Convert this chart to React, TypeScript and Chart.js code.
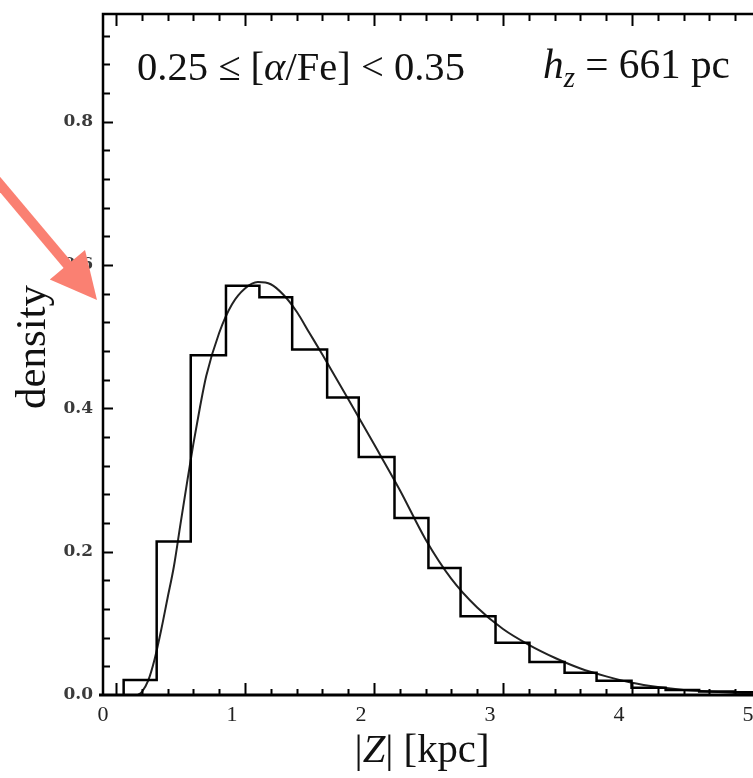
import React, { useEffect, useRef } from "react";
import { Chart, registerables } from "chart.js";

Chart.register(...registerables);

// ---------- data ----------
const HIST_EDGES = [0.06, 0.316, 0.58, 0.853, 1.112, 1.366, 1.637, 1.882, 2.159, 2.422, 2.671, 2.942, 3.205, 3.477, 3.725, 3.996, 4.26, 4.52, 4.79, 5.05];
const HIST_DENSITY = [0.021, 0.214, 0.474, 0.571, 0.555, 0.482, 0.415, 0.332, 0.247, 0.177, 0.11, 0.073, 0.046, 0.031, 0.02, 0.01, 0.007, 0.005, 0.004];

const CURVE_Z = [0.17, 0.2, 0.25, 0.3, 0.35, 0.4, 0.45, 0.5, 0.55, 0.6, 0.65, 0.7, 0.8, 0.9, 1.0, 1.1, 1.2, 1.3, 1.4, 1.5, 1.6, 1.8, 2.0, 2.2, 2.4, 2.6, 2.8, 3.0, 3.2, 3.4, 3.6, 3.8, 4.0, 4.2, 4.4, 4.6, 4.8, 5.0, 5.1];
const CURVE_DENSITY = [0.0, 0.004, 0.02, 0.05, 0.09, 0.135, 0.18, 0.238, 0.295, 0.35, 0.4, 0.445, 0.505, 0.545, 0.567, 0.576, 0.573, 0.558, 0.535, 0.505, 0.475, 0.413, 0.35, 0.286, 0.217, 0.162, 0.122, 0.092, 0.07, 0.052, 0.037, 0.026, 0.017, 0.011, 0.007, 0.005, 0.003, 0.002, 0.002];

const X_TICKS = [0, 1, 2, 3, 4, 5];
const Y_TICKS = [0, 0.2, 0.4, 0.6, 0.8];
const X_MINOR_STEP = 0.2;
const Y_MINOR_STEP = 0.04;
const X_MIN = -0.1;
const X_MAX = 5.1;
const Y_MIN = 0;
const Y_MAX = 0.95;

const Y_TITLE = "density";
const X_TITLE_RUNS = [
  { t: "|" },
  { t: "Z", italic: true },
  { t: "|" },
  { t: " [kpc]" },
];
const BIN_LABEL_RUNS = [
  { t: "0.25 ≤ [" },
  { t: "α", italic: true },
  { t: "/Fe] < 0.35" },
];
const HZ_LABEL_RUNS = [
  { t: "h", italic: true },
  { t: "z", italic: true, sub: true },
  { t: " = 661 pc" },
];

// ---------- layout constants ----------
const CANVAS_W = 800;
const CANVAS_H = 778;
const SERIF = '"Liberation Serif", serif';

type Run = { t: string; italic?: boolean; sub?: boolean };

function fontFor(r: Run, size: number) {
  const s = r.sub ? size * 0.7 : size;
  return `${r.italic ? "italic " : ""}${s}px ${SERIF}`;
}
function runsWidth(ctx: CanvasRenderingContext2D, runs: Run[], size: number) {
  let w = 0;
  for (const r of runs) {
    ctx.font = fontFor(r, size);
    w += ctx.measureText(r.t).width;
  }
  return w;
}
function drawRuns(ctx: CanvasRenderingContext2D, runs: Run[], x: number, y: number, size: number) {
  let cx = x;
  for (const r of runs) {
    ctx.font = fontFor(r, size);
    ctx.fillText(r.t, cx, r.sub ? y + size * 0.22 : y);
    cx += ctx.measureText(r.t).width;
  }
}
function fitSize(ctx: CanvasRenderingContext2D, runs: Run[], target: number) {
  const w = runsWidth(ctx, runs, 40);
  return (40 * target) / w;
}

const framePlugin = {
  id: "frame",
  afterDraw(chart: any) {
    const { ctx, chartArea: a } = chart;
    const x = chart.scales.x;
    const y = chart.scales.y;
    ctx.save();
    ctx.strokeStyle = "#000";
    ctx.lineCap = "butt";

    // inward ticks
    ctx.lineWidth = 2;
    ctx.beginPath();
    for (let k = Math.ceil(X_MIN / X_MINOR_STEP); k * X_MINOR_STEP <= X_MAX + 1e-9; k++) {
      const v = k * X_MINOR_STEP;
      const major = k % 5 === 0;
      const px = Math.round(x.getPixelForValue(v)) + 0.5;
      const len = major ? 12 : 6;
      ctx.moveTo(px, a.bottom);
      ctx.lineTo(px, a.bottom - len);
      const lenTop = major ? 12 : 7;
      ctx.moveTo(px, a.top);
      ctx.lineTo(px, a.top + lenTop);
    }
    for (let k = 1; k * Y_MINOR_STEP <= Y_MAX + 1e-9; k++) {
      const v = k * Y_MINOR_STEP;
      const major = k % 5 === 0;
      const py = Math.round(y.getPixelForValue(v)) + 0.5;
      const len = major ? 10 : 7;
      ctx.moveTo(a.left, py);
      ctx.lineTo(a.left + len, py);
    }
    ctx.stroke();

    // axes frame
    ctx.lineWidth = 2.5;
    ctx.beginPath();
    ctx.moveTo(a.left, a.bottom);
    ctx.lineTo(a.left, a.top);
    ctx.lineTo(a.right, a.top);
    ctx.stroke();
    ctx.lineWidth = 3;
    ctx.beginPath();
    ctx.moveTo(a.left - 4, a.bottom);
    ctx.lineTo(a.right, a.bottom);
    ctx.stroke();

    // texts
    ctx.fillStyle = "#111";
    ctx.textBaseline = "alphabetic";
    ctx.textAlign = "left";
    const s1 = fitSize(ctx, BIN_LABEL_RUNS, 328);
    drawRuns(ctx, BIN_LABEL_RUNS, 137, 80, s1);
    const s2 = fitSize(ctx, HZ_LABEL_RUNS, 187);
    drawRuns(ctx, HZ_LABEL_RUNS, 543, 78, s2);

    const s3 = fitSize(ctx, X_TITLE_RUNS, 135);
    const wx = runsWidth(ctx, X_TITLE_RUNS, s3);
    drawRuns(ctx, X_TITLE_RUNS, 422 - wx / 2, 762, s3);

    ctx.save();
    const yRuns = [{ t: Y_TITLE }];
    const s4 = fitSize(ctx, yRuns, 124);
    ctx.translate(45, 347);
    ctx.rotate(-Math.PI / 2);
    ctx.textAlign = "center";
    ctx.font = `${s4}px ${SERIF}`;
    ctx.fillText(Y_TITLE, 0, 0);
    ctx.restore();

    // salmon arrow annotation
    const sx = -8, sy = 175, tx = 97, ty = 300;
    const dx = tx - sx, dy = ty - sy;
    const L = Math.hypot(dx, dy);
    const ux = dx / L, uy = dy / L;
    const nx = -uy, ny = ux;
    const headLen = 46, headHalf = 23;
    const bx = tx - headLen * ux, by = ty - headLen * uy;
    ctx.strokeStyle = "#fa8072";
    ctx.fillStyle = "#fa8072";
    ctx.lineWidth = 10;
    ctx.beginPath();
    ctx.moveTo(sx, sy);
    ctx.lineTo(bx + 4 * ux, by + 4 * uy);
    ctx.stroke();
    ctx.beginPath();
    ctx.moveTo(tx, ty);
    ctx.lineTo(bx + headHalf * nx, by + headHalf * ny);
    ctx.lineTo(bx - headHalf * nx, by - headHalf * ny);
    ctx.closePath();
    ctx.fill();

    ctx.restore();
  },
};

export default function App() {
  const ref = useRef<HTMLCanvasElement | null>(null);

  useEffect(() => {
    document.body.style.margin = "0";
    const canvas = ref.current;
    if (!canvas) return;

    const histPoints = [{ x: HIST_EDGES[0], y: 0 }];
    HIST_DENSITY.forEach((h, i) => histPoints.push({ x: HIST_EDGES[i], y: h }));
    histPoints.push({ x: HIST_EDGES[HIST_EDGES.length - 1], y: HIST_DENSITY[HIST_DENSITY.length - 1] });

    const curvePoints = CURVE_Z.map((z, i) => ({ x: z, y: CURVE_DENSITY[i] }));

    const chart = new Chart(canvas, {
      type: "line",
      data: {
        datasets: [
          {
            label: "histogram",
            data: histPoints,
            stepped: "before",
            borderColor: "#000",
            borderWidth: 2.5,
            pointRadius: 0,
            fill: false,
          },
          {
            label: "model",
            data: curvePoints,
            borderColor: "#222",
            borderWidth: 2,
            pointRadius: 0,
            cubicInterpolationMode: "monotone",
            fill: false,
          },
        ],
      },
      options: {
        animation: false,
        responsive: false,
        devicePixelRatio: 1,
        layout: { padding: { top: 14, right: 26, left: 0, bottom: 0 } },
        plugins: { legend: { display: false }, tooltip: { enabled: false } },
        scales: {
          x: {
            type: "linear",
            min: X_MIN,
            max: X_MAX,
            grid: { display: false, drawTicks: false },
            border: { display: false },
            afterBuildTicks: (scale: any) => {
              scale.ticks = X_TICKS.map((v) => ({ value: v }));
            },
            afterFit: (scale: any) => {
              scale.height = 83;
              scale.paddingLeft = 0;
              scale.paddingRight = 0;
            },
            ticks: {
              padding: 7,
              labelOffset: -13,
              maxRotation: 0,
              autoSkip: false,
              color: "#222",
              font: { family: SERIF, size: 22 },
              callback: (v: any) => String(v),
            },
          },
          y: {
            type: "linear",
            min: Y_MIN,
            max: Y_MAX,
            grid: { display: false, drawTicks: false },
            border: { display: false },
            afterBuildTicks: (scale: any) => {
              scale.ticks = Y_TICKS.map((v) => ({ value: v }));
            },
            afterFit: (scale: any) => {
              scale.width = 103;
              scale.paddingTop = 0;
              scale.paddingBottom = 0;
            },
            ticks: {
              padding: 10,
              autoSkip: false,
              color: "#3a3a3a",
              font: { family: '"DejaVu Serif", serif', size: 17, weight: "bold" },
              callback: (v: any) => Number(v).toFixed(1),
            },
          },
        },
      },
      plugins: [framePlugin],
    });

    return () => chart.destroy();
  }, []);

  return (
    <div style={{ width: 753, height: 778, overflow: "hidden", position: "relative", background: "#fff" }}>
      <canvas ref={ref} width={CANVAS_W} height={CANVAS_H} style={{ width: CANVAS_W, height: CANVAS_H, display: "block" }} />
    </div>
  );
}
